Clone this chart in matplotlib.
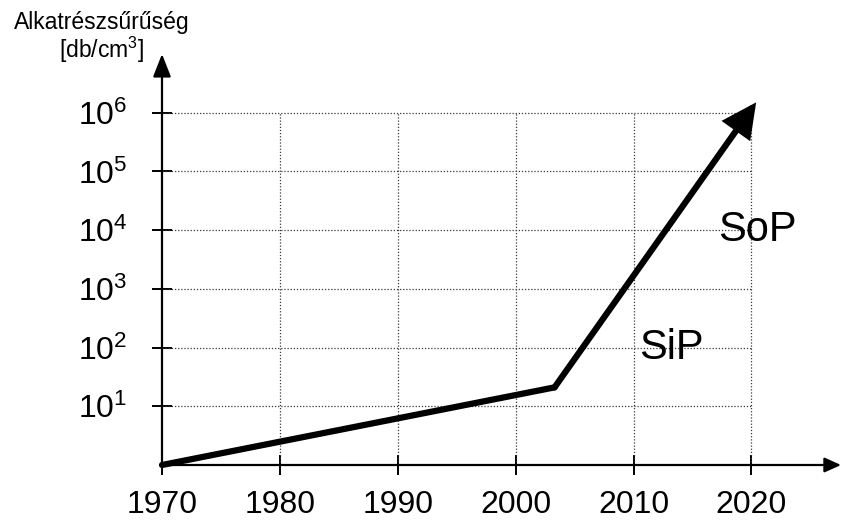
import matplotlib.pyplot as plt

plt.rcParams['font.family'] = ['Liberation Sans', 'DejaVu Sans']

# data
years = [1970, 1980, 1990, 2000, 2010, 2020]
decades = [1e1, 1e2, 1e3, 1e4, 1e5, 1e6]
decade_labels = [r'$\mathregular{10^{%d}}$' % k for k in range(1, 7)]
trend_x = [1970, 2003.3, 2020.4]
trend_y = [1.0, 21.0, 1.5e6]
x_max, y_max = 2027.6, 1e7

fig = plt.figure(figsize=(8.43, 5.21), dpi=100)
ax = fig.add_axes([162 / 843, 56 / 521, (841 - 162) / 843, (465 - 54) / 521])
ax.set_yscale('log')
ax.set_xlim(1970, x_max)
ax.set_ylim(1, y_max)
for s in ax.spines.values():
    s.set_visible(False)

# dotted grid, only inside the 1970-2020 / 1-1e6 box
ax.hlines(decades, years[0], years[-1], colors='#3a3a3a', linestyles=(0, (1, 1.5)), lw=0.9)
ax.vlines(years[1:], 1, decades[-1], colors='#3a3a3a', linestyles=(0, (1, 1.5)), lw=0.9)

# axes with arrows
ax.annotate('', xy=(x_max, 1), xytext=(1970, 1),
            arrowprops=dict(arrowstyle='-|>,head_length=1.0,head_width=0.45', lw=1.6,
                            color='black', shrinkA=0, shrinkB=0))
ax.annotate('', xy=(1970, y_max), xytext=(1970, 1),
            arrowprops=dict(arrowstyle='-|>,head_length=1.4,head_width=0.55', lw=1.6,
                            color='black', shrinkA=0, shrinkB=0))

ax.set_xticks(years)
ax.set_xticklabels([str(y) for y in years])
ax.set_yticks(decades)
ax.set_yticklabels(decade_labels)
ax.minorticks_off()
ax.tick_params(axis='both', direction='inout', length=14, width=1.4, labelsize=23)
ax.tick_params(axis='x', pad=11)
ax.tick_params(axis='y', pad=18)

# trend line
ax.plot(trend_x[:2], trend_y[:2], color='black', lw=4.5, solid_capstyle='round',
        solid_joinstyle='miter', clip_on=False)
ax.annotate('', xy=(trend_x[2], trend_y[2]), xytext=(trend_x[1], trend_y[1]),
            arrowprops=dict(arrowstyle='-|>,head_length=1.8,head_width=0.9', lw=4.5,
                            color='black', shrinkA=0, shrinkB=0, joinstyle='miter'))

ax.text(2020.5, 1e4, 'SoP', fontsize=30, ha='center', va='center')
ax.text(2013.2, 1e2, 'SiP', fontsize=30, ha='center', va='center')

fig.text(102 / 843, 1 - 22 / 521, 'Alkatrészsűrűség', fontsize=16.5, ha='center', va='center')
fig.text(102 / 843, 1 - 50 / 521, r'[db/cm$\mathregular{^3}$]', fontsize=16.5, ha='center', va='center')

fig.savefig('out.png', dpi=100)
